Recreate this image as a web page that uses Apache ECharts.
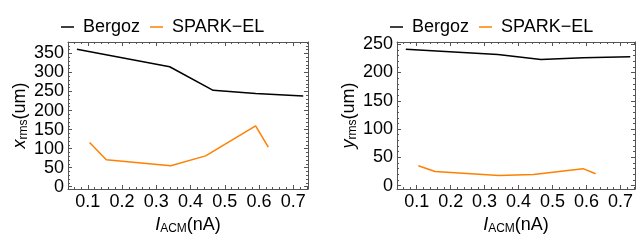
<!DOCTYPE html>
<html>
<head>
<meta charset="utf-8">
<script src="https://cdn.jsdelivr.net/npm/echarts@6/dist/echarts.min.js"></script>
<style>
  html, body { margin: 0; padding: 0; background: #fff; }
  #chart { width: 638px; height: 242px; }
</style>
</head>
<body>
<div id="chart"></div>
<script>
// beam current (nA) where each series was measured
var xBergoz = [0.068, 0.339, 0.466, 0.59, 0.729]
var xSpark = [0.105, 0.154, 0.342, 0.444, 0.59, 0.627]
// horizontal rms size (um)
var xrmsBergoz = [361, 315, 253, 245, 238]
var xrmsSpark = [116, 71, 55, 81, 160, 104]
// vertical rms size (um)
var yrmsBergoz = [241, 232, 223, 226, 228]
var yrmsSpark = [35, 25, 18, 19.5, 30, 21]
var seriesNames = ['Bergoz', 'SPARK\u2212EL']

var FONT = '"Liberation Sans", Arial, sans-serif'
var FRAME = '#555'

function pairs(xs, ys) {
  return xs.map(function (x, i) { return [x, ys[i]] })
}

function xLabel(v) {
  return Math.abs(v * 10 - Math.round(v * 10)) < 1e-6 ? v.toFixed(1) : ''
}
function yLabel(v) {
  return Math.abs(v / 50 - Math.round(v / 50)) < 1e-6 ? String(Math.round(v)) : ''
}

var richName = {
  i: { fontStyle: 'italic', fontSize: 18, fontFamily: FONT, color: '#000' },
  s: { fontSize: 12, fontFamily: FONT, color: '#000', verticalAlign: 'bottom', padding: [8, 0, 0, 0] },
  n: { fontSize: 18, fontFamily: FONT, color: '#000' }
}

function xAxes(grid, name) {
  var base = {
    gridIndex: grid,
    type: 'value',
    min: 0.042,
    max: 0.743,
    splitNumber: 7,
    splitLine: { show: false },
    axisLine: { show: true, onZero: false, lineStyle: { color: FRAME, width: 1 } },
    axisTick: { show: true, inside: true, length: 4, lineStyle: { color: FRAME } },
    minorTick: { show: true, splitNumber: 5, length: 2, lineStyle: { color: FRAME } }
  }
  var bottom = Object.assign({}, base, {
    position: 'bottom',
    name: name,
    nameLocation: 'middle',
    nameGap: 26,
    nameTextStyle: { rich: richName },
    axisLabel: { fontSize: 18, fontFamily: FONT, color: '#000', margin: 4, formatter: xLabel }
  })
  var top = Object.assign({}, base, { position: 'top', axisLabel: { show: false } })
  return [bottom, top]
}

function yAxes(grid, name, min, max, split) {
  var base = {
    gridIndex: grid,
    type: 'value',
    min: min,
    max: max,
    splitNumber: split,
    splitLine: { show: false },
    axisLine: { show: true, onZero: false, lineStyle: { color: FRAME, width: 1 } },
    axisTick: { show: true, inside: true, length: 4, lineStyle: { color: FRAME } },
    minorTick: { show: true, splitNumber: 5, length: 2, lineStyle: { color: FRAME } }
  }
  var left = Object.assign({}, base, {
    position: 'left',
    name: name,
    nameLocation: 'middle',
    nameGap: 38,
    nameRotate: 90,
    nameTextStyle: { rich: richName },
    axisLabel: { fontSize: 18, fontFamily: FONT, color: '#000', margin: 4, formatter: yLabel }
  })
  var right = Object.assign({}, base, { position: 'right', axisLabel: { show: false } })
  return [left, right]
}

function lineSeries(name, grid, data, color) {
  return {
    name: name,
    type: 'line',
    xAxisIndex: grid * 2,
    yAxisIndex: grid * 2,
    data: data,
    symbol: 'none',
    lineStyle: { color: color, width: 1.5 },
    itemStyle: { color: color },
    animation: false
  }
}

function legendAt(left) {
  return {
    data: seriesNames,
    left: left,
    top: 13,
    icon: 'rect',
    itemWidth: 13,
    itemHeight: 1.5,
    itemGap: 10,
    textStyle: { fontSize: 18, fontFamily: FONT, color: '#000', padding: [0, 0, 0, 4] }
  }
}

var chart = echarts.init(document.getElementById('chart'), null, { renderer: 'canvas' })

chart.setOption({
  backgroundColor: '#fff',
  animation: false,
  legend: [legendAt(56), legendAt(385)],
  grid: [
    { left: 68, right: 330, top: 42, bottom: 53 },
    { left: 397, right: 3, top: 42, bottom: 53 }
  ],
  xAxis: xAxes(0, '{i|I}{s|ACM}{n|(nA)}').concat(xAxes(1, '{i|I}{s|ACM}{n|(nA)}')),
  yAxis: yAxes(0, '{i|x}{s|rms}{n|(um)}', -6, 380, 8).concat(yAxes(1, '{i|y}{s|rms}{n|(um)}', -6, 254, 5)),
  series: [
    lineSeries(seriesNames[0], 0, pairs(xBergoz, xrmsBergoz), '#000000'),
    lineSeries(seriesNames[1], 0, pairs(xSpark, xrmsSpark), '#ff8000'),
    lineSeries(seriesNames[0], 1, pairs(xBergoz, yrmsBergoz), '#000000'),
    lineSeries(seriesNames[1], 1, pairs(xSpark, yrmsSpark), '#ff8000')
  ]
})
</script>
</body>
</html>
